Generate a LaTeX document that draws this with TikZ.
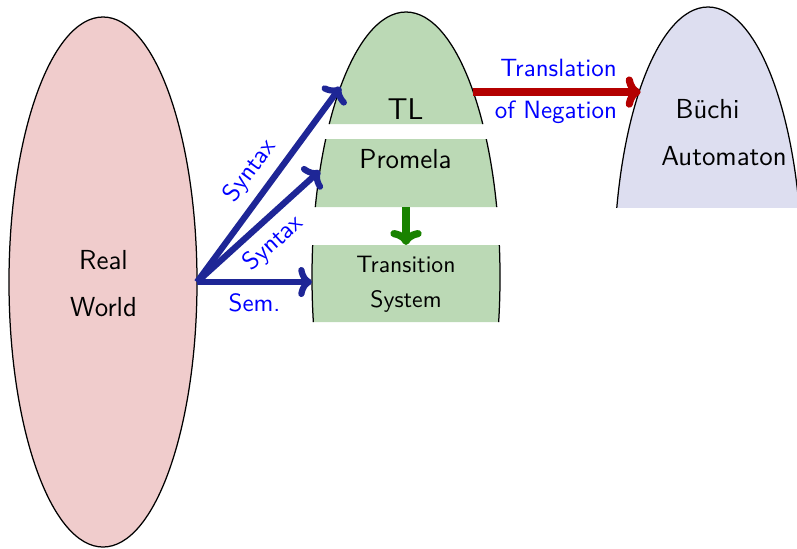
\documentclass[tikz,border=0pt]{standalone}
\usepackage{tikz}
\usetikzlibrary{shapes.geometric,arrows.meta}
\definecolor{worldpink}{RGB}{240,204,204}
\definecolor{modelgreen}{RGB}{187,217,181}
\definecolor{autolilac}{RGB}{221,222,240}
\definecolor{synblue}{RGB}{30,38,150}
\definecolor{transred}{RGB}{180,0,0}
\definecolor{stepgreen}{RGB}{25,130,0}

\begin{document}
\begin{tikzpicture}[x=0.4pt,y=-0.4pt,font=\sffamily]
\tikzstyle{blob}=[ellipse, draw=black, line width=0.5pt, inner sep=0pt, outer sep=0pt, minimum width=75.2pt, minimum height=212pt]
\tikzstyle{bigtxt}=[inner sep=0pt, anchor=base, font=\sffamily\fontsize{11}{13}\selectfont]
\tikzstyle{smalltxt}=[inner sep=0pt, anchor=base, font=\sffamily\fontsize{9.5}{11}\selectfont]
\tikzstyle{lbl}=[text=blue, font=\sffamily\fontsize{10}{12}\selectfont]
\tikzstyle{synarrow}=[synblue, line width=2.5pt, -{To[length=5.5pt,width=12pt,round]}]
\useasboundingbox (0,0) rectangle (797,548);
% real world
\node [blob, fill=worldpink] (world) at (103,282) {};
\node [bigtxt] (real) at (103.5,269) {Real};
\node [bigtxt] (wrld) at (103.5,316) {World};
% model side, cut into bands
\begin{scope}
\clip (290,0) rectangle (520,124) (290,139) rectangle (520,207) (290,245) rectangle (520,322);
\node [blob, fill=modelgreen] (model) at (406,277) {};
\end{scope}
\node [bigtxt, font=\sffamily\fontsize{12}{14}\selectfont] (tl) at (405.5,119) {TL};
\node [bigtxt] (promela) at (405.5,168) {Promela};
\node [smalltxt] (trans) at (406,272) {Transition};
\node [smalltxt] (system) at (406,307) {System};
% automaton
\begin{scope}
\clip (600,0) rectangle (797,207);
\node [blob, fill=autolilac] (buchi) at (708,272) {};
\end{scope}
\node [bigtxt] (buchitxt) at (707.5,118) {B\"uchi};
\node [bigtxt] (automaton) at (724,165) {Automaton};
% arrows
\coordinate (promBot) at (406,207);
\coordinate (tsTop) at (406,245);
\draw [synarrow] (world.east) -- (model.109.25) node [lbl, pos=0.5, sloped, above] {Syntax};
\draw [synarrow] (world.east) -- (model.129.3) node [lbl, pos=0.5, sloped, below] {Syntax};
\draw [synarrow] (world.east) -- (world.east -| model.west) node [lbl, midway, below] {Sem.};
\draw [transred, line width=2.9pt, -{To[length=6pt,width=12.5pt,round]}] (model.70.75) -- (model.70.75 -| buchi.110.3);
\node [lbl, anchor=base] (transl) at (558.5,76) {Translation};
\node [lbl, anchor=base] (negat) at (556,118) {of Negation};
\draw [stepgreen, line width=2.9pt, -{To[length=6pt,width=12.5pt,round]}] (promBot) -- (tsTop);
\end{tikzpicture}
\end{document}
